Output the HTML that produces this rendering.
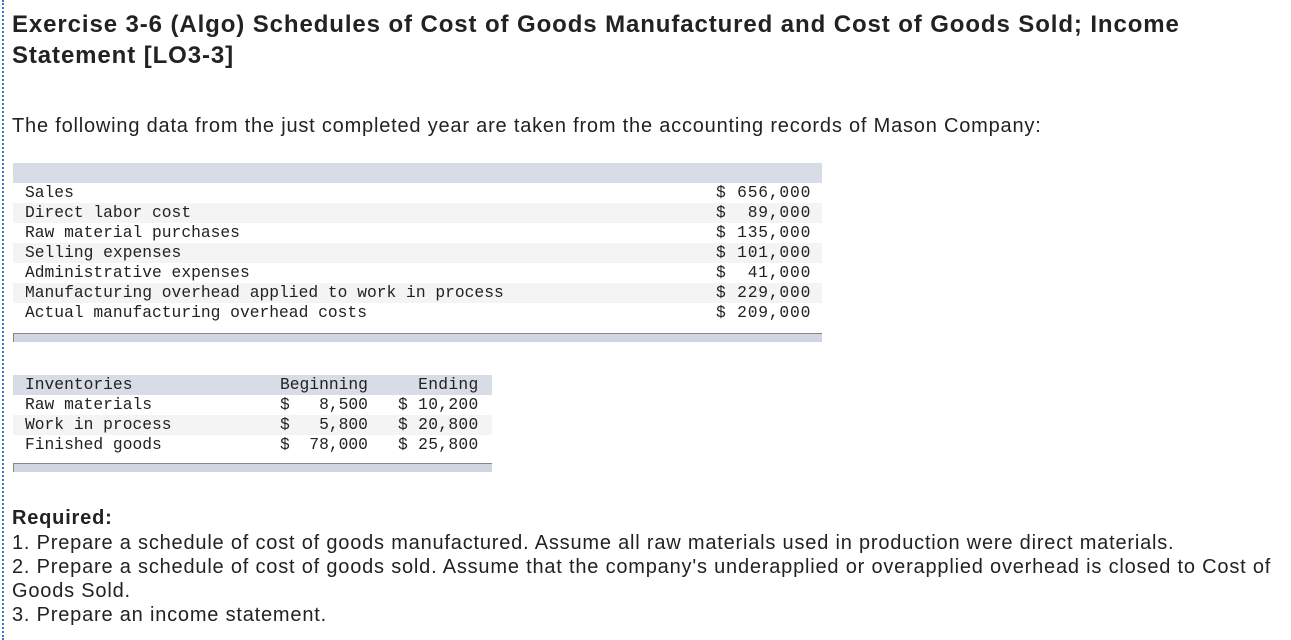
<!DOCTYPE html>
<html><head><meta charset="utf-8">
<style>
body{margin:0;width:1291px;height:640px;background:#fff;position:relative;overflow:hidden;font-family:"Liberation Sans",sans-serif;color:#222}
.lb{position:absolute;left:2px;top:0;height:640px;border-left:2px dotted #3a75c4}
.t{position:absolute;white-space:nowrap}
.h{font-weight:bold;font-size:24px;left:12px;letter-spacing:0.9px}
.m{font-family:"Liberation Mono",monospace;font-size:16.3px;line-height:20px;color:#222;position:absolute;white-space:pre}
.bar{position:absolute;background:#d8dce6}
.row{position:absolute;height:20px}
.foot{position:absolute;background:#d0d5e0;border-top:1px solid #888;border-left:1px solid #888}
.req{font-size:20px;left:12px;letter-spacing:0.8px}
</style></head><body>
<div class="lb"></div>
<div class="t h" style="top:11px">Exercise 3-6 (Algo) Schedules of Cost of Goods Manufactured and Cost of Goods Sold; Income</div>
<div class="t h" style="top:42px">Statement [LO3-3]</div>
<div class="t" style="left:12px;top:115px;font-size:20px;letter-spacing:0.8px">The following data from the just completed year are taken from the accounting records of Mason Company:</div>

<div>
<div class="bar" style="left:13px;top:163px;width:809px;height:20px"></div>
<div class="row" style="left:13px;width:809px;top:203px;background:#f4f4f4"></div>
<div class="row" style="left:13px;width:809px;top:243px;background:#f4f4f4"></div>
<div class="row" style="left:13px;width:809px;top:283px;background:#f4f4f4"></div>
<div class="m" style="left:25px;top:183px">Sales
Direct labor cost
Raw material purchases
Selling expenses
Administrative expenses
Manufacturing overhead applied to work in process
Actual manufacturing overhead costs</div>
<div class="m" style="left:716px;top:183px;letter-spacing:0.8px">$ 656,000
$  89,000
$ 135,000
$ 101,000
$  41,000
$ 229,000
$ 209,000</div>
<div class="foot" style="left:13px;top:333px;width:808px;height:8px"></div>
</div>

<div>
<div class="bar" style="left:13px;top:375px;width:479px;height:20px"></div>
<div class="row" style="left:13px;width:479px;top:415px;background:#f4f4f4"></div>
<div class="m" style="left:25px;top:375px">Inventories
Raw materials
Work in process
Finished goods</div>
<div class="m" style="left:280px;top:375px">Beginning
$   8,500
$   5,800
$  78,000</div>
<div class="m" style="left:398px;top:375px;letter-spacing:0.3px">  Ending
$ 10,200
$ 20,800
$ 25,800</div>
<div class="foot" style="left:13px;top:463px;width:478px;height:8px"></div>
</div>

<div class="t req" style="top:507px;font-weight:bold">Required:</div>
<div class="t req" style="top:532px">1. Prepare a schedule of cost of goods manufactured. Assume all raw materials used in production were direct materials.</div>
<div class="t req" style="top:556px">2. Prepare a schedule of cost of goods sold. Assume that the company's underapplied or overapplied overhead is closed to Cost of</div>
<div class="t req" style="top:580px">Goods Sold.</div>
<div class="t req" style="top:604px">3. Prepare an income statement.</div>
</body></html>
